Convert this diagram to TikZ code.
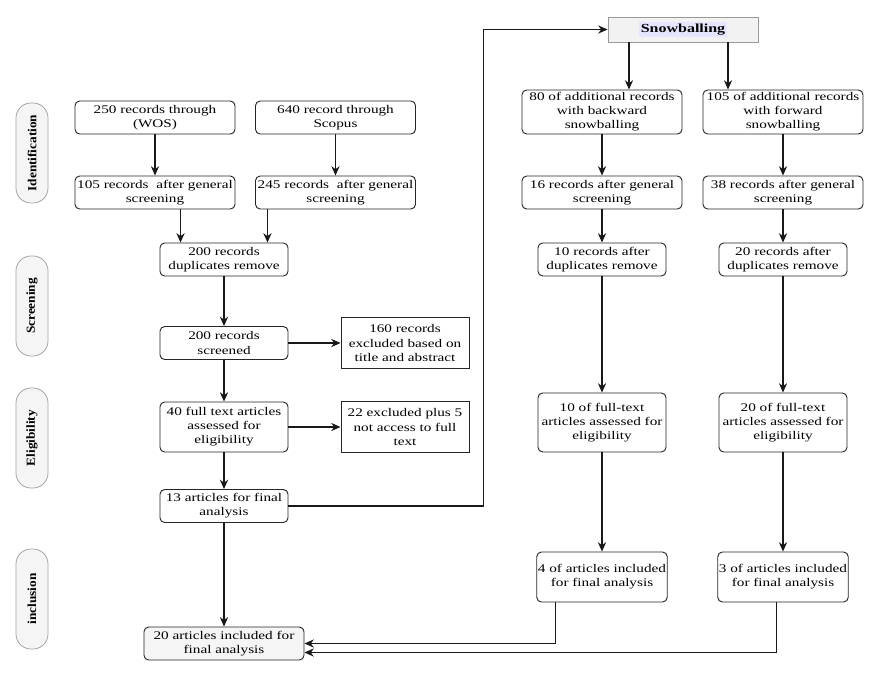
\documentclass[tikz,border=0pt]{standalone}
\usepackage{fontspec}
\setmainfont{Liberation Serif}[FakeStretch=1.3]
\newfontfamily\stagefont{Liberation Serif}[FakeStretch=1.08]
\usetikzlibrary{arrows.meta,positioning,calc}

\begin{document}
\begin{tikzpicture}[
    x=0.03cm, y=-0.03cm,
    % Node styles
    stage/.style={rectangle, rounded corners=0.45cm, draw=gray!70, fill=gray!8, line width=0.7pt, minimum width=3cm, minimum height=0.96cm, rotate=90, font=\stagefont\fontsize{10.5}{12}\selectfont\bfseries},
    box/.style={rectangle, rounded corners=4pt, draw=black!85, line width=0.8pt, align=center, inner sep=1pt, font=\fontsize{10}{12}\selectfont},
    widebox/.style={box, minimum width=4.8cm, minimum height=0.99cm},
    midbox/.style={box, minimum width=3.84cm, minimum height=0.99cm},
    exclbox/.style={box, rounded corners=0pt, minimum width=3.84cm, minimum height=1.53cm},
    snowbox/.style={rectangle, draw=gray!80, fill=gray!10, line width=0.8pt, minimum width=4.5cm, minimum height=0.75cm, font=\fontsize{10.5}{12}\selectfont\bfseries},
    arrow/.style={-{Stealth[length=8pt,width=7pt]}, line width=0.9pt, black!90}
]

\useasboundingbox (0,0) rectangle (876,672);

% Stages
\node[stage] (ident) at (32,153) {Identification};
\node[stage] (screen) at (32,306) {Screening};
\node[stage] (elig) at (32,438) {Eligibility};
\node[stage] (incl) at (32,599) {inclusion};

% Database search
\node[widebox] (wos) at (155,117.5) {250 records through\\(WOS)};
\node[widebox] (scopus) at (335.5,117.5) {640 record through\\Scopus};
\node[widebox] (gen105) at (155,192.5) {105 records\ \ after general\\screening};
\node[widebox] (gen245) at (335.5,192.5) {245 records\ \ after general\\screening};
\node[midbox] (dupl) at (224,259.5) {200 records\\duplicates remove};
\node[midbox] (screened) at (224,343) {200 records\\screened};
\node[exclbox] (excl160) at (405,343) {160 records\\excluded based on\\title and abstract};
\node[midbox, minimum height=1.5cm] (full40) at (224,427) {40 full text articles\\assessed for\\eligibility};
\node[exclbox] (excl22) at (405,427) {22 excluded plus 5\\not access to full\\text};
\node[midbox] (final13) at (224,506) {13 articles for final\\analysis};
\node[widebox, fill=gray!8] (final20) at (224,643.5) {20 articles included for\\final analysis};

% Snowballing
\node[snowbox] (snow) at (683,29.5) {\setlength{\fboxsep}{1.5pt}\colorbox{blue!10}{Snowballing}};
\node[widebox, minimum height=1.32cm] (back80) at (602,112) {80 of additional records\\with backward\\snowballing};
\node[widebox, minimum height=1.32cm] (fwd105) at (783,112) {105 of additional records\\with forward\\snowballing};
\node[widebox] (gen16) at (602,192.5) {16 records after general\\screening};
\node[widebox] (gen38) at (783,192.5) {38 records after general\\screening};
\node[midbox] (dup10) at (602,259.5) {10 records after\\duplicates remove};
\node[midbox] (dup20) at (783,259.5) {20 records after\\duplicates remove};
\node[midbox, minimum height=1.77cm] (full10) at (602,422.5) {10 of full-text\\articles assessed for\\eligibility};
\node[midbox, minimum height=1.77cm] (full20) at (783,422.5) {20 of full-text\\articles assessed for\\eligibility};
\node[midbox, minimum height=1.5cm] (incl4) at (602,577) {4 of articles included\\for final analysis};
\node[midbox, minimum height=1.5cm] (incl3) at (783,577) {3 of articles included\\for final analysis};

% Left flow
\draw[arrow] (wos) -- (gen105);
\draw[arrow] (scopus) -- (gen245);
\draw[arrow] ([xshift=0.63cm]gen105.south -| dupl.north west) -- ([xshift=0.63cm]dupl.north west);
\draw[arrow] ([xshift=-0.63cm]gen245.south -| dupl.north east) -- ([xshift=-0.63cm]dupl.north east);
\draw[arrow] (dupl) -- (screened);
\draw[arrow] (screened) -- (excl160);
\draw[arrow] (screened) -- (full40);
\draw[arrow] (full40) -- (excl22);
\draw[arrow] (full40) -- (final13);
\draw[arrow] (final13) -- (final20);

% Into snowballing
\draw[arrow] (final13.east) -- ++(5.85cm,0) |- (snow.west);
\draw[arrow] ([xshift=-1.62cm]snow.south) -- ([xshift=-1.62cm]snow.south |- back80.north);
\draw[arrow] ([xshift=1.35cm]snow.south) -- ([xshift=1.35cm]snow.south |- fwd105.north);

% Snowballing flows
\draw[arrow] (back80) -- (gen16);
\draw[arrow] (gen16) -- (dup10);
\draw[arrow] (dup10) -- (full10);
\draw[arrow] (full10) -- (incl4);
\draw[arrow] (fwd105) -- (gen38);
\draw[arrow] (gen38) -- (dup20);
\draw[arrow] (dup20) -- (full20);
\draw[arrow] (full20) -- (incl3);

% Back to final analysis
\draw[arrow] ([xshift=0.57cm]incl4.south west) |- (final20.east);
\draw[arrow] ([xshift=1.77cm]incl3.south west) |- ([yshift=-0.27cm]final20.east);

\end{tikzpicture}
\end{document}
